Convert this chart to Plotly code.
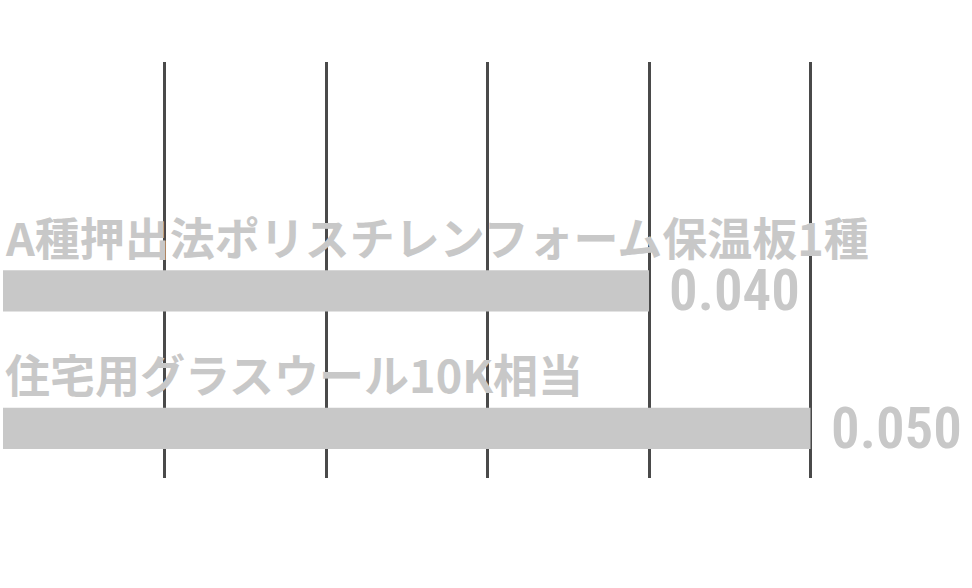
import plotly.graph_objects as go

# 熱伝導率 (W/m・K)
categories = ["住宅用グラスウール10K相当", "A種押出法ポリスチレンフォーム保温板1種"]
values = [0.050, 0.040]
value_labels = ["0.050", "0.040"]
grid_ticks = [0.01, 0.02, 0.03, 0.04, 0.05]

bar_color = "#c8c8c8"
text_color = "#c8c8c8"

fig = go.Figure()
fig.add_trace(go.Bar(
    x=values,
    y=categories,
    orientation="h",
    width=0.3,
    marker=dict(color=bar_color, line=dict(width=0)),
    hoverinfo="none",
))

# category names sit above each bar, values to the right
for cat, val, lab in zip(categories, values, value_labels):
    fig.add_annotation(
        x=0, y=cat, xref="x", yref="y",
        text=cat, showarrow=False,
        xanchor="left", yanchor="bottom", yshift=20,
        font=dict(family="Noto Sans CJK JP", size=45, color=text_color, weight="bold"),
    )
    fig.add_annotation(
        x=val, y=cat, xref="x", yref="y",
        text=lab, showarrow=False,
        xanchor="left", yanchor="middle", xshift=18,
        font=dict(family="Roboto Condensed", size=57, color=text_color, weight=600),
    )

fig.update_layout(
    width=972, height=588,
    margin=dict(l=3, r=0, t=62, b=110),
    plot_bgcolor="white", paper_bgcolor="white",
    showlegend=False,
    xaxis=dict(
        range=[0, 0.06],
        tickmode="array", tickvals=grid_ticks,
        showticklabels=False, showgrid=True,
        gridcolor="#4a4a4a", gridwidth=2.5,
        zeroline=False, showline=False, ticks="",
    ),
    yaxis=dict(
        type="category",
        range=[-0.36, 2.665],
        showticklabels=False, showgrid=False,
        zeroline=False, showline=False, ticks="",
    ),
)

fig.write_html("out.html", config={"displayModeBar": False},
               post_script="document.body.style.margin='0'")
